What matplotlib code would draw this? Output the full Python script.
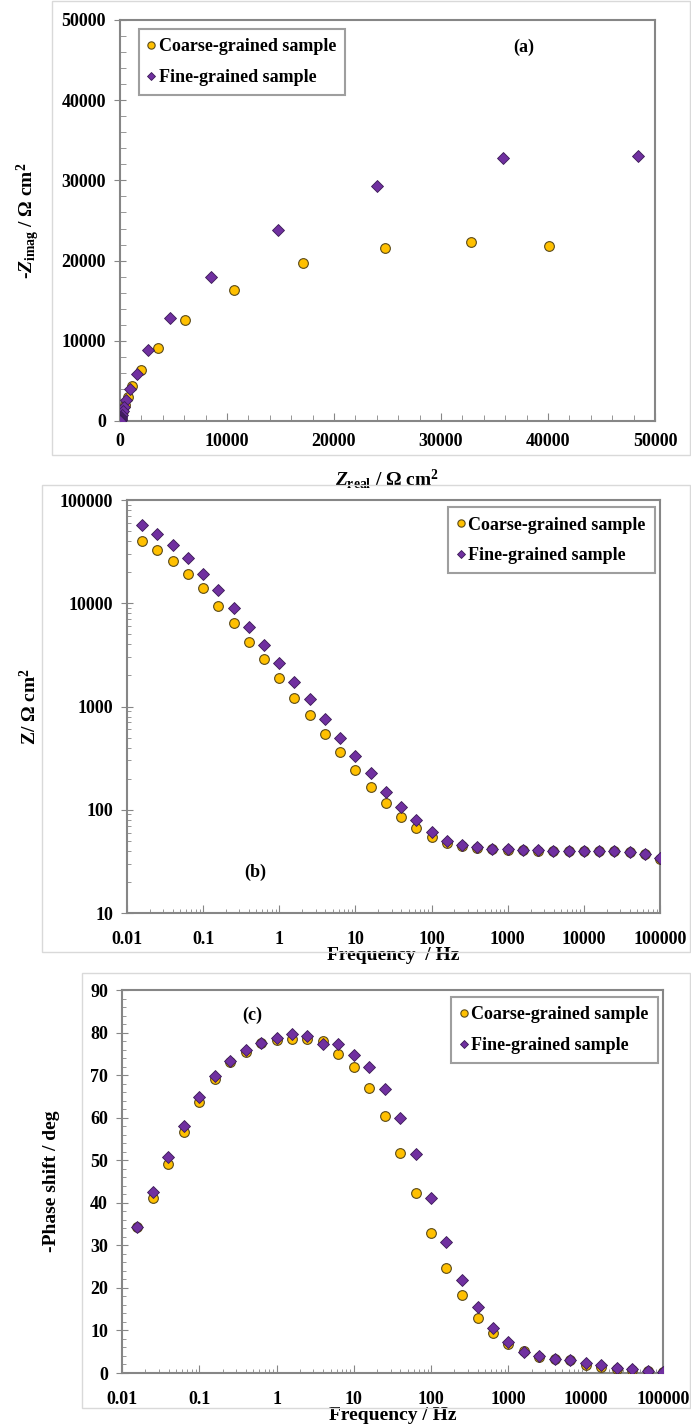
import matplotlib
matplotlib.use('Agg')
import matplotlib.pyplot as plt
from matplotlib.ticker import MultipleLocator, FuncFormatter, LogLocator, NullFormatter
from matplotlib.patches import Rectangle

plt.rcParams['font.family'] = ['Liberation Serif', 'DejaVu Serif']
plt.rcParams['font.weight'] = 'bold'
plt.rcParams['mathtext.fontset'] = 'custom'
plt.rcParams['mathtext.rm'] = 'Liberation Serif:bold'
plt.rcParams['mathtext.it'] = 'Liberation Serif:bold:italic'
plt.rcParams['mathtext.bf'] = 'Liberation Serif:bold'

# Nyquist data (a)
coarse_zre = [40100, 32800, 24800, 17100, 10700, 6100, 3550, 1950, 1130, 730, 480, 320,
              210, 140, 95, 70, 55, 48, 45, 43, 42, 41, 40, 40]
coarse_zim = [21800, 22300, 21600, 19700, 16300, 12600, 9100, 6300, 4350, 2980, 1950, 1300,
              870, 580, 380, 250, 160, 100, 60, 30, 15, 8, 4, 2]
fine_zre = [48400, 35800, 24000, 14800, 8500, 4700, 2650, 1600, 900, 570, 380, 250,
            170, 115, 85, 65, 52, 46, 43, 42, 41, 40, 40]
fine_zim = [33000, 32800, 29300, 23800, 18000, 12800, 8800, 5900, 4000, 2650, 1800, 1200,
            800, 530, 340, 220, 140, 85, 50, 25, 12, 6, 3]

# Bode data (b, c)
freq = [0.0158, 0.0251, 0.0398, 0.0631, 0.1, 0.158, 0.251, 0.398, 0.631, 1.0,
        1.58, 2.51, 3.98, 6.31, 10.0, 15.8, 25.1, 39.8, 63.1, 100.0,
        158, 251, 398, 631, 1000, 1585, 2512, 3981, 6310, 10000,
        15850, 25120, 39810, 63100, 100000]
coarse_z = [40000, 32500, 25500, 19200, 13900, 9400, 6400, 4250, 2870, 1870,
            1220, 820, 545, 365, 243, 167, 116, 85, 66, 55,
            48, 45, 43, 41.5, 41, 40.5, 40.2, 40, 40, 40,
            40, 40, 38.8, 37.4, 33.5]
fine_z = [57500, 46500, 36500, 27500, 19300, 13300, 9000, 5950, 3970, 2630,
          1720, 1170, 760, 500, 330, 225, 150, 106, 79, 61,
          50, 45.5, 43.5, 42, 41.5, 41, 40.5, 40.2, 40, 40,
          40, 40, 39, 37.5, 34]
coarse_phase = [34.3, 41.1, 49.0, 56.7, 63.7, 69.0, 73.0, 75.5, 77.6, 78.3,
                78.6, 78.4, 77.9, 75.0, 72.0, 67.0, 60.3, 51.8, 42.3, 33.0,
                24.6, 18.3, 12.9, 9.4, 6.9, 5.1, 3.8, 3.2, 3.1, 1.8,
                1.4, 1.0, 0.7, 0.5, 0.2]
fine_phase = [34.4, 42.6, 50.8, 58.1, 64.8, 69.8, 73.3, 76.0, 77.6, 78.8,
              79.6, 79.1, 77.3, 77.3, 74.8, 72.0, 66.8, 59.9, 51.4, 41.1,
              30.9, 21.8, 15.4, 10.6, 7.3, 5.0, 3.9, 3.2, 3.1, 2.4,
              1.8, 1.1, 0.9, 0.5, 0.2]

labels = ['Coarse-grained sample', 'Fine-grained sample']
orange = '#FFC000'
purple = '#7030A0'
spine_col = '#868686'

W, H = 691, 1426
fig = plt.figure(figsize=(W / 100, H / 100), dpi=100)

# light gray panel frames
for (x0, y0, x1, y1) in [(52, 1, 690, 455), (42, 485, 690, 952), (82, 973, 690, 1408)]:
    fig.patches.append(Rectangle((x0 / W, 1 - y1 / H), (x1 - x0) / W, (y1 - y0) / H,
                                 transform=fig.transFigure, fill=False,
                                 edgecolor='#d9d9d9', linewidth=1.0))


def ax_rect(l, t, r, b):
    return [l / W, 1 - b / H, (r - l) / W, (b - t) / H]


def style_axes(ax):
    for s in ax.spines.values():
        s.set_color(spine_col)
        s.set_linewidth(1.5)
    ax.tick_params(axis='both', which='both', colors=spine_col, labelcolor='black',
                   labelsize=13)
    for lab in ax.get_xticklabels() + ax.get_yticklabels():
        lab.set_fontweight('bold')


def draw_series(ax, x1, y1, x2, y2):
    ax.plot(x1, y1, linestyle='none', marker='o', markersize=7,
            markerfacecolor=orange, markeredgecolor='#5a4a1a', markeredgewidth=0.8,
            label=labels[0], zorder=3)
    ax.plot(x2, y2, linestyle='none', marker='D', markersize=6,
            markerfacecolor=purple, markeredgecolor='#3a1a55', markeredgewidth=0.6,
            label=labels[1], zorder=4)


def add_legend(ax, loc, anchor):
    leg = ax.legend(loc=loc, bbox_to_anchor=anchor, fontsize=13, frameon=True,
                    fancybox=False, edgecolor=spine_col, handlelength=0.4,
                    handletextpad=0.2, borderpad=0.5, labelspacing=0.75,
                    borderaxespad=0.3, markerscale=0.75)
    leg.get_frame().set_linewidth(1.5)
    for t in leg.get_texts():
        t.set_fontweight('bold')
    return leg


# (a) Nyquist
ax1 = fig.add_axes(ax_rect(120, 20, 655, 421))
draw_series(ax1, coarse_zre, coarse_zim, fine_zre, fine_zim)
ax1.set_xlim(0, 50000)
ax1.set_ylim(0, 50000)
ax1.xaxis.set_major_locator(MultipleLocator(10000))
ax1.xaxis.set_minor_locator(MultipleLocator(2000))
ax1.yaxis.set_major_locator(MultipleLocator(10000))
ax1.yaxis.set_minor_locator(MultipleLocator(2000))
ax1.tick_params(axis='x', which='major', direction='in', length=6, pad=9)
ax1.tick_params(axis='x', which='minor', direction='in', length=4)
ax1.tick_params(axis='y', which='major', direction='inout', length=8, pad=6)
ax1.tick_params(axis='y', which='minor', direction='in', length=4)
style_axes(ax1)
ax1.set_xlabel(r'$Z_{\rm real}$ / Ω cm$^2$', fontsize=14, fontweight='bold', labelpad=12)
ax1.set_ylabel(r'-$Z_{\rm imag}$ / Ω cm$^2$', fontsize=14, fontweight='bold', labelpad=14)
ax1.text(37700, 46600, '(a)', fontsize=13, fontweight='bold', ha='center', va='center')
add_legend(ax1, 'upper left', (0.025, 0.99))

fmt = FuncFormatter(lambda v, p: '{:g}'.format(v))

# (b) |Z| vs frequency
ax2 = fig.add_axes(ax_rect(127, 500, 660, 913))
draw_series(ax2, freq, coarse_z, freq, fine_z)
ax2.set_xscale('log')
ax2.set_yscale('log')
ax2.set_xlim(0.01, 100000)
ax2.set_ylim(10, 100000)
for axis in (ax2.xaxis, ax2.yaxis):
    axis.set_major_locator(LogLocator(base=10, numticks=20))
    axis.set_minor_locator(LogLocator(base=10, subs=range(2, 10), numticks=20))
    axis.set_major_formatter(fmt)
    axis.set_minor_formatter(NullFormatter())
ax2.tick_params(axis='x', which='major', direction='in', length=6, pad=13)
ax2.tick_params(axis='x', which='minor', direction='in', length=3)
ax2.tick_params(axis='y', which='major', direction='inout', length=8, pad=6)
ax2.tick_params(axis='y', which='minor', direction='in', length=3)
style_axes(ax2)
ax2.set_xlabel('Frequency  / Hz', fontsize=14, fontweight='bold', labelpad=-1)
ax2.set_ylabel(r'Z/ Ω cm$^2$', fontsize=14, fontweight='bold', labelpad=14)
ax2.text(0.49, 25, '(b)', fontsize=13, fontweight='bold', ha='center', va='center')
add_legend(ax2, 'upper right', (1.0, 0.995))

# (c) phase vs frequency
ax3 = fig.add_axes(ax_rect(122, 990, 663, 1373))
draw_series(ax3, freq, coarse_phase, freq, fine_phase)
ax3.set_xscale('log')
ax3.set_xlim(0.01, 100000)
ax3.set_ylim(0, 90)
ax3.xaxis.set_major_locator(LogLocator(base=10, numticks=20))
ax3.xaxis.set_minor_locator(LogLocator(base=10, subs=range(2, 10), numticks=20))
ax3.xaxis.set_major_formatter(fmt)
ax3.xaxis.set_minor_formatter(NullFormatter())
ax3.yaxis.set_major_locator(MultipleLocator(10))
ax3.yaxis.set_minor_locator(MultipleLocator(2))
ax3.tick_params(axis='x', which='major', direction='in', length=6, pad=13)
ax3.tick_params(axis='x', which='minor', direction='in', length=3)
ax3.tick_params(axis='y', which='major', direction='inout', length=8, pad=6)
ax3.tick_params(axis='y', which='minor', direction='in', length=3)
style_axes(ax3)
ax3.set_xlabel('Frequency / Hz', fontsize=14, fontweight='bold', labelpad=-1)
ax3.set_ylabel('-Phase shift / deg', fontsize=14, fontweight='bold', labelpad=22)
ax3.text(0.49, 84, '(c)', fontsize=13, fontweight='bold', ha='center', va='center')
add_legend(ax3, 'upper right', (1.0, 0.995))

fig.savefig('out.png', dpi=100)
